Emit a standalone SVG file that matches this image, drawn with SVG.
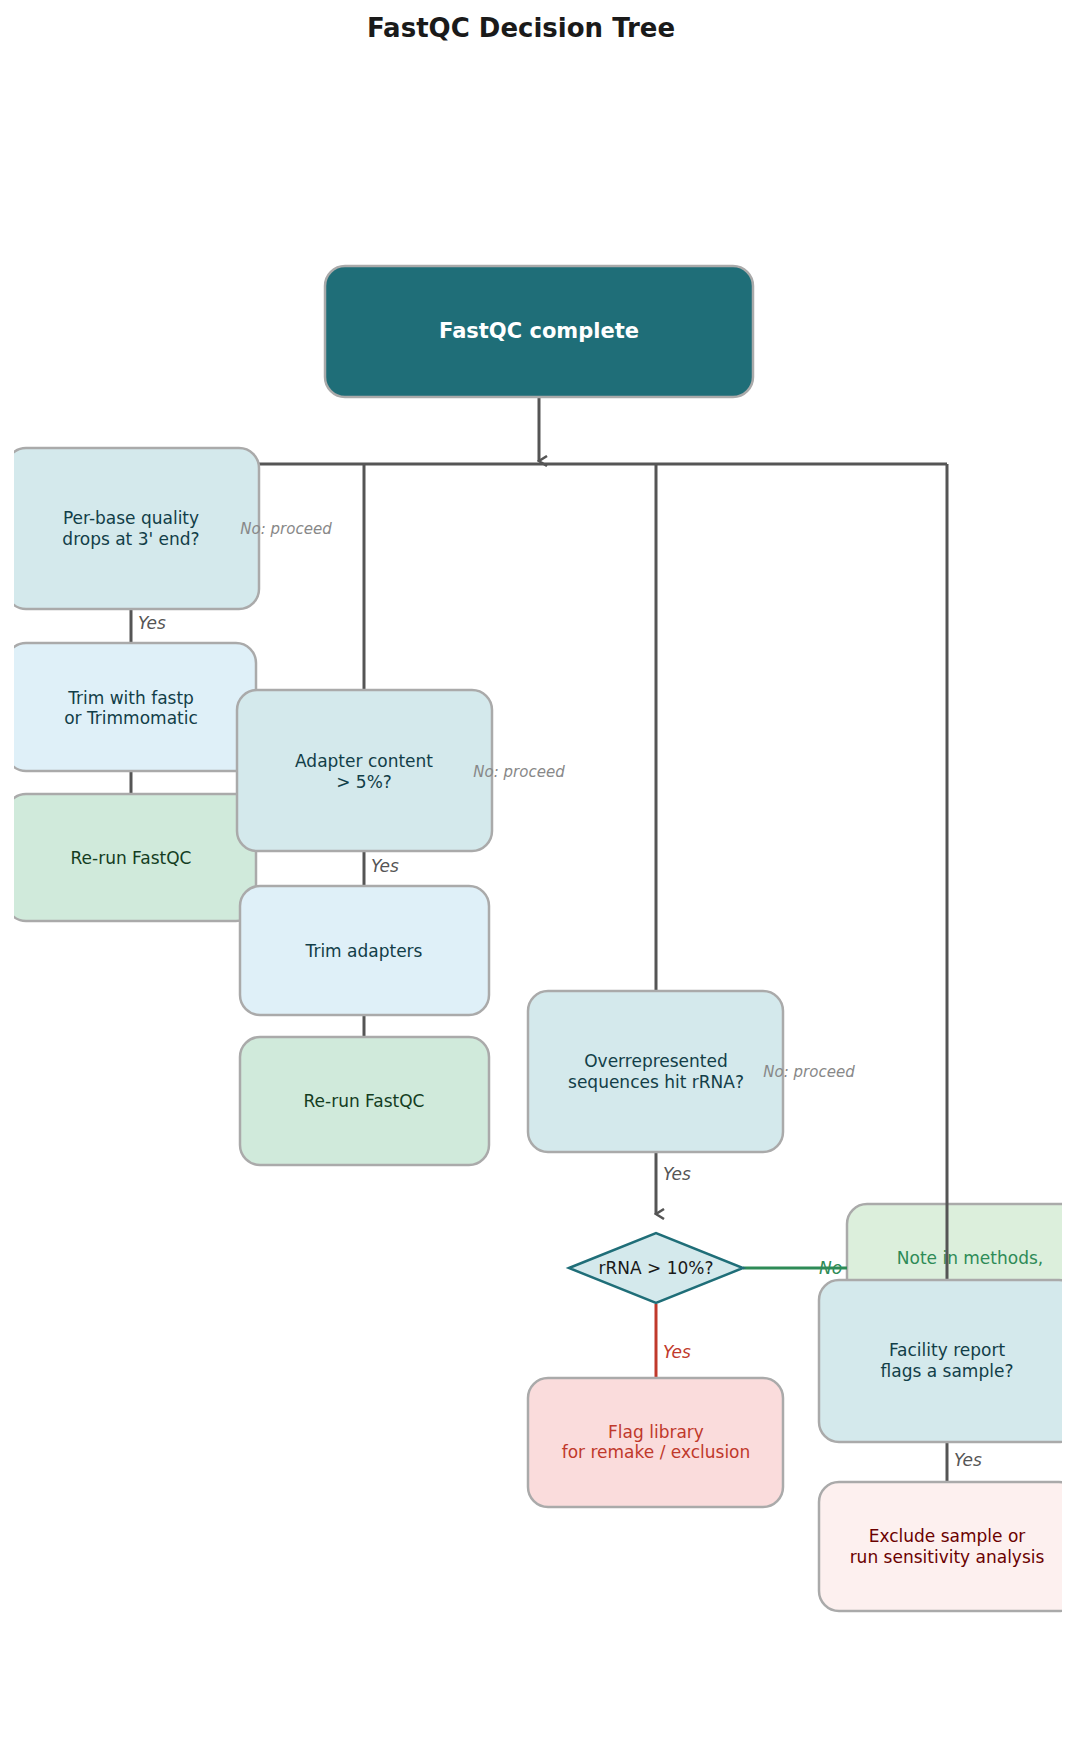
<svg xmlns="http://www.w3.org/2000/svg" width="1076" height="1755" viewBox="0 0 1076 1755">
<defs>
<style>
text{font-family:"DejaVu Sans",sans-serif;text-anchor:middle;}
.t{font-size:17px;fill:#123e48;}
.n{fill:#d4e9ec;stroke:#aaaaaa;stroke-width:2.5;}
.a{fill:#dff0f8;stroke:#aaaaaa;stroke-width:2.5;}
.r{fill:#d0eadb;stroke:#aaaaaa;stroke-width:2.5;}
.ln{stroke:#555;stroke-width:3;fill:none;}
.lb{font-size:17px;font-style:italic;fill:#555;text-anchor:start;}
.np{font-size:15px;font-style:italic;fill:#888;}
</style>
<marker id="ah" markerWidth="12" markerHeight="12" refX="6" refY="10" orient="auto" markerUnits="userSpaceOnUse" viewBox="0 0 12 12"><path d="M1,2 L6,10 L11,2" fill="none" stroke="#555" stroke-width="2.5"/></marker>
<clipPath id="c"><rect x="14" y="0" width="1048" height="1755"/></clipPath>
</defs>
<rect width="1076" height="1755" fill="#fff"/>
<text x="521" y="37" style="font-size:26px;font-weight:bold;fill:#1a1a1a">FastQC Decision Tree</text>
<g clip-path="url(#c)">
<g id="n-note"><rect x="847" y="1204" width="260" height="140" rx="20" fill="#dcefdc" stroke="#aaa" stroke-width="2.5"/><text x="970" y="1264" style="font-size:17px;fill:#2e8b57">Note in methods,</text><text x="970" y="1293" style="font-size:17px;fill:#2e8b57">proceed</text></g>
<g id="connectors">
<path class="ln" d="M539,372 V461" marker-end="url(#ah)"/>
<path class="ln" d="M258,464 H947"/>
<path class="ln" d="M364,464 V690"/>
<path class="ln" d="M656,464 V991"/>
<path class="ln" d="M947,464 V1280"/>
<path class="ln" d="M131,583 V642"/>
<path class="ln" d="M131,748 V793"/>
<path class="ln" d="M364,826 V886"/>
<path class="ln" d="M364,991 V1037"/>
<path class="ln" d="M656,1127 V1214" marker-end="url(#ah)"/>
<path d="M743,1268 H847" stroke="#2e8b57" stroke-width="3"/>
<path d="M656,1304 V1378" stroke="#c0392b" stroke-width="3"/>
<path class="ln" d="M947,1417 V1482"/>
<text class="lb" x="138" y="629">Yes</text>
<text class="lb" x="371" y="872">Yes</text>
<text class="lb" x="663" y="1180">Yes</text>
<text class="lb" x="663" y="1358" style="fill:#c0392b">Yes</text>
<text class="lb" x="954" y="1466">Yes</text>
<text class="lb" x="819" y="1274" style="fill:#2e8b57">No</text>
</g>
<g id="n-start"><rect x="325" y="266" width="428" height="131" rx="20" fill="#1f6e78" stroke="#aaa" stroke-width="2.5"/><text x="539" y="338" style="font-size:21px;font-weight:bold;fill:#fff">FastQC complete</text></g>
<g id="n-perbase"><rect class="n" x="6" y="448" width="253" height="161" rx="20"/><text class="t" x="131" y="524">Per-base quality</text><text class="t" x="131" y="545">drops at 3' end?</text></g>
<text class="np" x="286" y="534">No: proceed</text>
<g id="n-trim1"><rect class="a" x="6" y="643" width="250" height="128" rx="20"/><text class="t" x="131" y="704">Trim with fastp</text><text class="t" x="131" y="724">or Trimmomatic</text></g>
<g id="n-rerun1"><rect class="r" x="6" y="794" width="250" height="127" rx="20"/><text class="t" x="131" y="864" style="fill:#143d1f">Re-run FastQC</text></g>
<g id="n-adapter"><rect class="n" x="237" y="690" width="255" height="161" rx="20"/><text class="t" x="364" y="767">Adapter content</text><text class="t" x="364" y="788">&gt; 5%?</text></g>
<text class="np" x="519" y="777">No: proceed</text>
<g id="n-trim2"><rect class="a" x="240" y="886" width="249" height="129" rx="20"/><text class="t" x="364" y="957">Trim adapters</text></g>
<g id="n-rerun2"><rect class="r" x="240" y="1037" width="249" height="128" rx="20"/><text class="t" x="364" y="1107" style="fill:#143d1f">Re-run FastQC</text></g>
<g id="n-overrep"><rect class="n" x="528" y="991" width="255" height="161" rx="20"/><text class="t" x="656" y="1067">Overrepresented</text><text class="t" x="656" y="1088">sequences hit rRNA?</text></g>
<text class="np" x="809" y="1077">No: proceed</text>
<g id="n-rrna"><path d="M569,1268 L656,1233 L743,1268 L656,1303 Z" fill="#d4e9ec" stroke="#1f6e78" stroke-width="2.5"/><text x="656" y="1274" style="font-size:17px;fill:#1a1a1a">rRNA &gt; 10%?</text></g>
<g id="n-flag"><rect x="528" y="1378" width="255" height="129" rx="20" fill="#fadcdc" stroke="#aaa" stroke-width="2.5"/><text x="656" y="1438" style="font-size:17px;fill:#c0392b">Flag library</text><text x="656" y="1458" style="font-size:17px;fill:#c0392b">for remake / exclusion</text></g>
<g id="n-facility"><rect class="n" x="819" y="1280" width="260" height="162" rx="20"/><text class="t" x="947" y="1356">Facility report</text><text class="t" x="947" y="1377">flags a sample?</text></g>
<g id="n-exclude"><rect x="819" y="1482" width="260" height="129" rx="20" fill="#fdf0ef" stroke="#aaa" stroke-width="2.5"/><text x="947" y="1542" style="font-size:17px;fill:#6b0000">Exclude sample or</text><text x="947" y="1563" style="font-size:17px;fill:#6b0000">run sensitivity analysis</text></g>
</g>
</svg>
